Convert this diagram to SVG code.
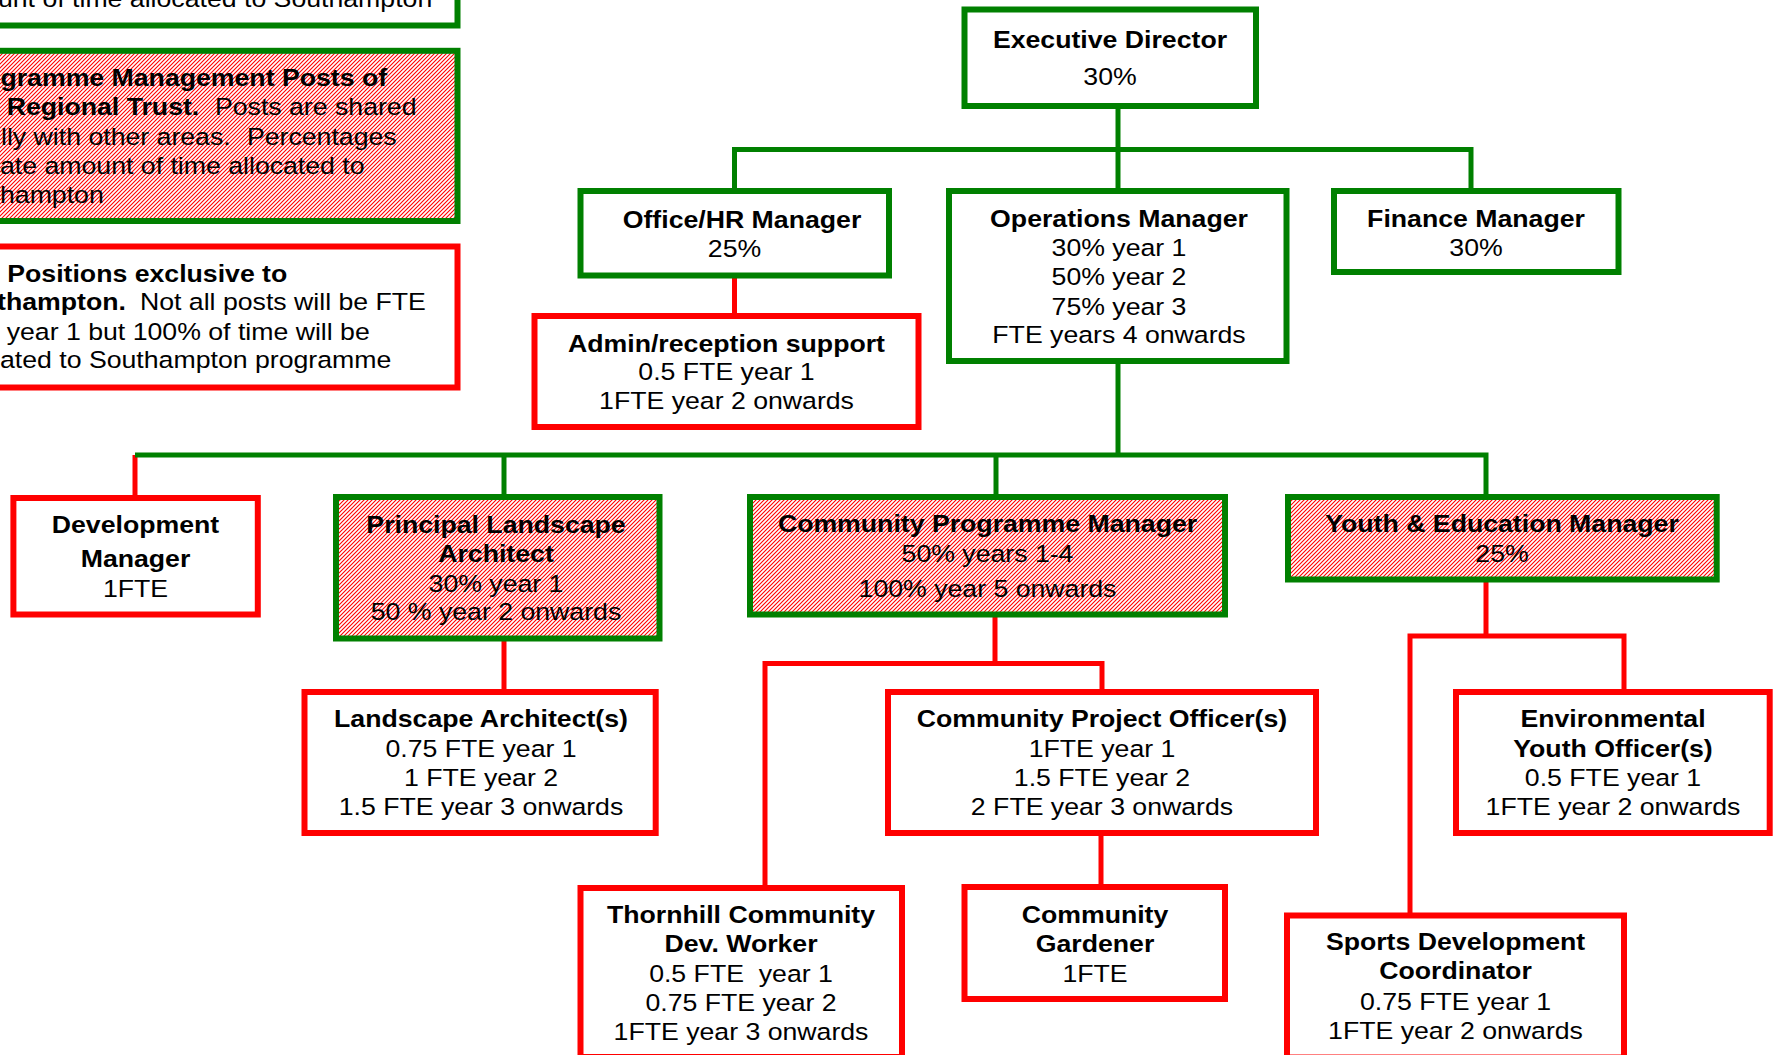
<svg xmlns="http://www.w3.org/2000/svg" width="1775" height="1055" viewBox="0 0 1775 1055">
<style>
.t{font-family:"Liberation Sans",Arial,Helvetica,sans-serif;font-size:23.5px;fill:#000}
.c{text-anchor:middle}
.b{font-weight:bold}
.gb{fill:#fff;stroke:#008000;stroke-width:6}
.gh{fill:url(#hatch);stroke:#008000;stroke-width:6}
.rb{fill:#fff;stroke:#ff0000;stroke-width:6}
.gl{fill:none;stroke:#008000;stroke-width:5}
.rl{fill:none;stroke:#ff0000;stroke-width:5}
</style>
<defs>
<pattern id="hatch" width="4" height="4" patternUnits="userSpaceOnUse">
<rect width="4" height="4" fill="#fff"/>
<path d="M-1,1 L1,-1 M0,4 L4,0 M3,5 L5,3" stroke="#ff0000" stroke-width="1.1"/>
</pattern>
</defs>
<rect width="1775" height="1055" fill="#fff"/>

<g id="legend">
<rect class="gb" x="-10" y="-40" width="467.5" height="65.5"/>
<rect class="gh" x="-10" y="50.8" width="467.5" height="170.2"/>
<rect class="rb" x="-10" y="246.5" width="467.5" height="141"/>
<g transform="scale(1.135 1)">
<text class="t" x="-1.8" y="7">unt of time allocated to Southampton</text>
<text class="t b" x="0.4" y="86">gramme Management Posts of</text>
<text class="t" y="115"><tspan class="b" x="5.9">Regional Trust.</tspan><tspan x="189.4">Posts are shared</tspan></text>
<text class="t" y="145"><tspan x="0.9">lly with other areas.</tspan><tspan x="217.6">Percentages</tspan></text>
<text class="t" x="0" y="174">ate amount of time allocated to</text>
<text class="t" x="0" y="203">hampton</text>
<text class="t b" x="6.4" y="282">Positions exclusive to</text>
<text class="t" y="310"><tspan class="b" x="-2.6">thampton.</tspan><tspan x="123.3">Not all posts will be FTE</tspan></text>
<text class="t" x="5.9" y="340">year 1 but 100% of time will be</text>
<text class="t" x="0" y="368">ated to Southampton programme</text>
</g>
</g>

<g id="connectors">
<path class="rl" d="M734.5,275.5 V316"/>
<path class="rl" d="M135,455 V498"/>
<path class="rl" d="M504,638.5 V692"/>
<path class="rl" d="M995,614.5 V663.5 M765,888 V663.5 H1102 V692"/>
<path class="rl" d="M1101,833 V887"/>
<path class="rl" d="M1486,579.5 V636 M1410,915.5 V636 H1624 V692"/>
<path class="gl" d="M1118,106 V191"/>
<path class="gl" d="M734.5,191 V149.5 H1471 V191"/>
<path class="gl" d="M1118,361 V455"/>
<path class="gl" d="M135,455 H1486 V497"/>
<path class="gl" d="M504,455 V497"/>
<path class="gl" d="M996,455 V497"/>
</g>

<g id="executive-director">
<rect class="gb" x="964.5" y="9.5" width="291.5" height="96.5"/>
<text class="t c" transform="translate(1110 0) scale(1.135 1)"><tspan class="b" x="0" y="48">Executive Director</tspan><tspan x="0" y="85">30%</tspan></text>
</g>

<g id="office-hr-manager">
<rect class="gb" x="580.5" y="191" width="308.5" height="84.5"/>
<text class="t c b" transform="translate(742 0) scale(1.135 1)" x="0" y="228">Office/HR Manager</text>
<text class="t c" transform="translate(734.5 0) scale(1.135 1)" x="0" y="257">25%</text>
</g>

<g id="operations-manager">
<rect class="gb" x="949" y="191" width="337.5" height="170"/>
<text class="t c" transform="translate(1119 0) scale(1.135 1)"><tspan class="b" x="0" y="227">Operations Manager</tspan><tspan x="0" y="256">30% year 1</tspan><tspan x="0" y="285">50% year 2</tspan><tspan x="0" y="315">75% year 3</tspan><tspan x="0" y="343">FTE years 4 onwards</tspan></text>
</g>

<g id="finance-manager">
<rect class="gb" x="1334" y="191" width="284.5" height="81"/>
<text class="t c" transform="translate(1476 0) scale(1.135 1)"><tspan class="b" x="0" y="227">Finance Manager</tspan><tspan x="0" y="256">30%</tspan></text>
</g>

<g id="admin-reception-support">
<rect class="rb" x="534.5" y="316" width="384" height="111"/>
<text class="t c" transform="translate(726.5 0) scale(1.135 1)"><tspan class="b" x="0" y="352">Admin/reception support</tspan><tspan x="0" y="380">0.5 FTE year 1</tspan><tspan x="0" y="409">1FTE year 2 onwards</tspan></text>
</g>

<g id="development-manager">
<rect class="rb" x="13.4" y="498" width="244.4" height="116.5"/>
<text class="t c" transform="translate(135.5 0) scale(1.135 1)"><tspan class="b" x="0" y="533">Development</tspan><tspan class="b" x="0" y="567">Manager</tspan><tspan x="0" y="597">1FTE</tspan></text>
</g>

<g id="principal-landscape-architect">
<rect class="gh" x="336" y="497" width="323.5" height="141.5"/>
<text class="t c" transform="translate(496 0) scale(1.135 1)"><tspan class="b" x="0" y="533">Principal Landscape</tspan><tspan class="b" x="0" y="562">Architect</tspan><tspan x="0" y="592">30% year 1</tspan><tspan x="0" y="620">50 % year 2 onwards</tspan></text>
</g>

<g id="community-programme-manager">
<rect class="gh" x="750" y="497" width="475" height="117.5"/>
<text class="t c" transform="translate(987.5 0) scale(1.135 1)"><tspan class="b" x="0" y="532">Community Programme Manager</tspan><tspan x="0" y="562">50% years 1-4</tspan><tspan x="0" y="597">100% year 5 onwards</tspan></text>
</g>

<g id="youth-education-manager">
<rect class="gh" x="1288" y="497" width="428.7" height="82.5"/>
<text class="t c" transform="translate(1502 0) scale(1.135 1)"><tspan class="b" x="0" y="532">Youth &amp; Education Manager</tspan><tspan x="0" y="562">25%</tspan></text>
</g>

<g id="landscape-architects">
<rect class="rb" x="304.5" y="692" width="351.2" height="141"/>
<text class="t c" transform="translate(481 0) scale(1.135 1)"><tspan class="b" x="0" y="727">Landscape Architect(s)</tspan><tspan x="0" y="757">0.75 FTE year 1</tspan><tspan x="0" y="786">1 FTE year 2</tspan><tspan x="0" y="815">1.5 FTE year 3 onwards</tspan></text>
</g>

<g id="community-project-officers">
<rect class="rb" x="888" y="692" width="428" height="141"/>
<text class="t c" transform="translate(1102 0) scale(1.135 1)"><tspan class="b" x="0" y="727">Community Project Officer(s)</tspan><tspan x="0" y="757">1FTE year 1</tspan><tspan x="0" y="786">1.5 FTE year 2</tspan><tspan x="0" y="815">2 FTE year 3 onwards</tspan></text>
</g>

<g id="environmental-youth-officers">
<rect class="rb" x="1456" y="692" width="313.7" height="141"/>
<text class="t c" transform="translate(1613 0) scale(1.135 1)"><tspan class="b" x="0" y="727">Environmental</tspan><tspan class="b" x="0" y="757">Youth Officer(s)</tspan><tspan x="0" y="786">0.5 FTE year 1</tspan><tspan x="0" y="815">1FTE year 2 onwards</tspan></text>
</g>

<g id="thornhill-community-dev-worker">
<rect class="rb" x="580.5" y="888" width="321.5" height="169"/>
<text class="t c" transform="translate(741 0) scale(1.135 1)" xml:space="preserve"><tspan class="b" x="0" y="923">Thornhill Community</tspan><tspan class="b" x="0" y="952">Dev. Worker</tspan><tspan x="0" y="982">0.5 FTE  year 1</tspan><tspan x="0" y="1011">0.75 FTE year 2</tspan><tspan x="0" y="1040">1FTE year 3 onwards</tspan></text>
</g>

<g id="community-gardener">
<rect class="rb" x="964.5" y="887" width="260.5" height="112"/>
<text class="t c" transform="translate(1095 0) scale(1.135 1)"><tspan class="b" x="0" y="923">Community</tspan><tspan class="b" x="0" y="952">Gardener</tspan><tspan x="0" y="982">1FTE</tspan></text>
</g>

<g id="sports-development-coordinator">
<rect class="rb" x="1287" y="915.5" width="337" height="142"/>
<text class="t c" transform="translate(1455.5 0) scale(1.135 1)"><tspan class="b" x="0" y="950">Sports Development</tspan><tspan class="b" x="0" y="979">Coordinator</tspan><tspan x="0" y="1010">0.75 FTE year 1</tspan><tspan x="0" y="1039">1FTE year 2 onwards</tspan></text>
</g>
</svg>
